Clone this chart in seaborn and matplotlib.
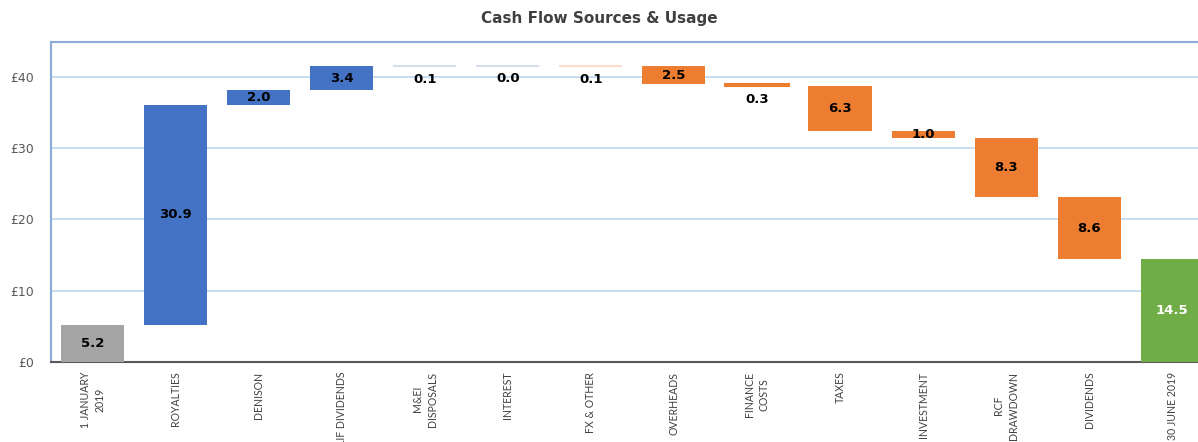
import pandas as pd
import seaborn as sns
import matplotlib.pyplot as plt

# chart data
categories = ['1 JANUARY\n2019', 'ROYALTIES', 'DENISON', 'LIF DIVIDENDS', 'M&EI\nDISPOSALS',
              'INTEREST', 'FX & OTHER', 'OVERHEADS', 'FINANCE\nCOSTS', 'TAXES', 'INVESTMENT',
              'RCF\nDRAWDOWN', 'DIVIDENDS', '30 JUNE 2019']
changes = [5.2, 30.9, 2.0, 3.4, 0.1, 0.0, -0.1, -2.5, -0.3, -6.3, -1.0, -8.3, -8.6, 14.5]
kinds = ['total', 'up', 'up', 'up', 'faint_up', 'faint_up', 'faint_down', 'down', 'down',
         'down', 'down', 'down', 'down', 'end']
yticks = [0, 10, 20, 30, 40]
ytick_labels = ['£0', '£10', '£20', '£30', '£40']

kind_colors = {'total': '#A5A5A5', 'up': '#4472C4', 'down': '#ED7D31', 'end': '#70AD47',
               'faint_up': '#D6DFF0', 'faint_down': '#FBDCCB'}

# waterfall bottoms / heights
bottoms, heights = [], []
running = 0.0
for v, k in zip(changes, kinds):
    if k in ('total', 'end'):
        bottoms.append(0.0)
        heights.append(v)
        running = v
    elif v >= 0:
        bottoms.append(running)
        heights.append(v)
        running += v
    else:
        running += v
        bottoms.append(running)
        heights.append(-v)

df = pd.DataFrame({'cat': categories, 'height': heights, 'bottom': bottoms, 'kind': kinds})

sns.set_style('white')
plt.rcParams['font.family'] = ['DejaVu Sans']

fig = plt.figure(figsize=(11.98, 4.42), dpi=100)
ax = fig.add_axes([51 / 1198, 1 - 362 / 442, 1 - 51 / 1198, 320 / 442])

sns.barplot(data=df, x='cat', y='height', hue='cat', legend=False, dodge=False,
            palette=[kind_colors[k] for k in kinds], width=0.76, saturation=1, ax=ax)

for patch, b, k in zip(ax.patches, bottoms, kinds):
    patch.set_y(b)
    if k.startswith('faint') or patch.get_height() < 0.5:
        patch.set_edgecolor(patch.get_facecolor())
        patch.set_linewidth(1.5)
    else:
        patch.set_linewidth(0)
    patch.set_zorder(3)

# value labels
for i, (v, b, h, k) in enumerate(zip(changes, bottoms, heights, kinds)):
    txt = f'{abs(v):.1f}'
    col = 'white' if k == 'end' else 'black'
    if h < 0.5:
        ax.annotate(txt, (i, b), xytext=(0, -5), textcoords='offset points',
                    ha='center', va='top', fontsize=9.5, fontweight='bold', color=col, zorder=4)
    else:
        ax.text(i, b + h / 2, txt, ha='center', va='center', fontsize=9.5,
                fontweight='bold', color=col, zorder=4)

ax.set_xlim(-0.5, 13.31)
ax.set_ylim(0, 44.9)
ax.set_yticks(yticks)
ax.set_yticklabels(ytick_labels, fontsize=9, color='#595959')
ax.yaxis.grid(True, color='#BDD7EE', linewidth=1.2, zorder=0)
ax.set_axisbelow(True)
ax.tick_params(axis='y', length=0, pad=12)
ax.tick_params(axis='x', length=0, pad=7)
ax.set_xticks(range(len(categories)))
ax.set_xticklabels(categories, rotation=90, fontsize=7.6, color='#404040',
                   ha='center', va='top', multialignment='center', linespacing=1.45,
                   family=['Lato', 'DejaVu Sans'])
ax.set_xlabel('')
ax.set_ylabel('')

for side in ('left', 'top'):
    ax.spines[side].set_color('#8EA9DB')
    ax.spines[side].set_linewidth(1.5)
ax.spines['bottom'].set_color('#595959')
ax.spines['bottom'].set_linewidth(1.5)
ax.spines['right'].set_visible(False)

fig.text(0.5, 1 - 19 / 442, 'Cash Flow Sources & Usage', ha='center', va='center',
         fontsize=11, fontweight='bold', color='#404040')

fig.savefig('out.png', dpi=100)
